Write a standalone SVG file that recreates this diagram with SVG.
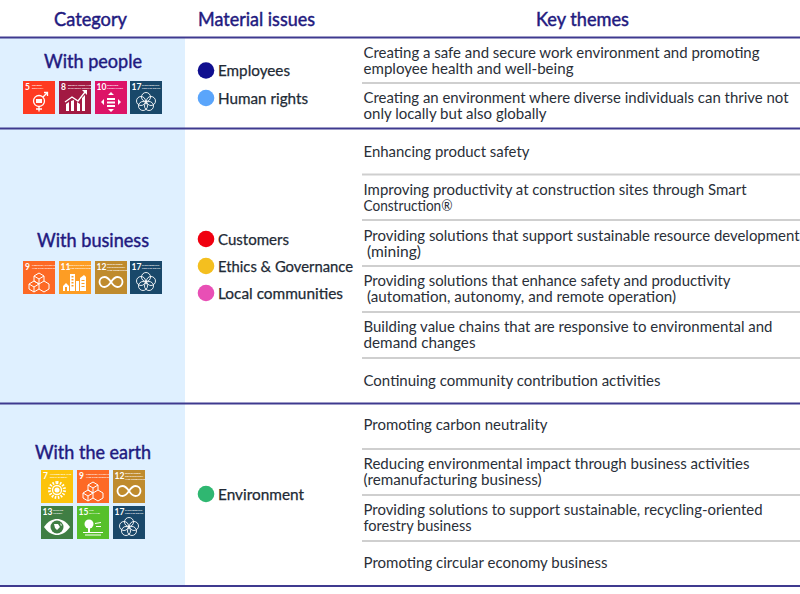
<svg xmlns="http://www.w3.org/2000/svg" width="800" height="594" viewBox="0 0 800 594">
<style>
text{font-family:"Lato","Noto Sans","Liberation Sans",sans-serif}
.h{font-size:18.500px;fill:#1f1a80;stroke:#1f1a80;stroke-width:.45}
.c{font-size:19.500px;fill:#1f1a80;stroke:#1f1a80;stroke-width:.45}
.m{font-size:15.500px;fill:#222a35;stroke:#222a35;stroke-width:.25}
.t{font-size:15px;fill:#2a2f38}
.rule{stroke:#3f3a8f;stroke-width:2;fill:none}
.sep{stroke:#cfcfcf;stroke-width:2;fill:none}
.n{font-size:8.500px;font-weight:700;fill:#fff}
.s{font-size:2.400px;font-weight:700;fill:#fff}
.w{fill:none;stroke:#fff;stroke-width:1.300}
.f{fill:#fff}
</style>
<defs>
<symbol id="g5" viewBox="0 0 32 33"><rect width="32" height="33" fill="#ff3a21"/><text class="n" x="2" y="9">5</text><text class="s" x="9" y="5">GENDER</text><text class="s" x="9" y="8">EQUALITY</text><circle class="w" cx="16" cy="20" r="5.500"/><rect class="f" x="13" y="18" width="6" height="4"/><path class="w" d="M16 25.500v5M13 28h6M20 16l4-4M21 11.500h3.500v3.500"/></symbol>
<symbol id="g8" viewBox="0 0 32 33"><rect width="32" height="33" fill="#a21942"/><text class="n" x="2" y="9">8</text><text class="s" x="9" y="5">DECENT WORK AND</text><text class="s" x="9" y="8">ECONOMIC GROWTH</text><path class="f" d="M7 30v-7l3-2v9zM12 30V20l3-1v11zM18 30V21l3 2v7zM23 30V17l3-3v16z"/><path class="w" d="M6 21l7-5 6 4 7-9"/><path class="f" d="M23 9h5v5z"/></symbol>
<symbol id="g10" viewBox="0 0 32 33"><rect width="32" height="33" fill="#dd1367"/><text class="n" x="1.500" y="9">10</text><text class="s" x="12" y="5">REDUCED</text><text class="s" x="12" y="8">INEQUALITIES</text><path class="f" d="M12 17h8v2h-8zM12 20.500h8v2h-8zM12 24h8v2h-8zM16 11l3 3h-6zM16 31l-3-3h6zM6 21l3-3v6zM26 21l-3-3v6z"/></symbol>
<symbol id="g17" viewBox="0 0 32 33"><rect width="32" height="33" fill="#19486a"/><text class="n" x="1.500" y="9">17</text><text class="s" x="12" y="5">PARTNERSHIPS</text><text class="s" x="12" y="8">FOR THE GOALS</text><g class="w" style="stroke-width:.9"><circle cx="16" cy="16" r="4.500"/><circle cx="11" cy="20" r="4.500"/><circle cx="21" cy="20" r="4.500"/><circle cx="13" cy="25" r="4.500"/><circle cx="19" cy="25" r="4.500"/></g></symbol>
<symbol id="g9" viewBox="0 0 32 33"><rect width="32" height="33" fill="#fd6925"/><text class="n" x="2" y="9">9</text><text class="s" x="9" y="5">INDUSTRY, INNOVATION</text><text class="s" x="9" y="8">AND INFRASTRUCTURE</text><path class="w" style="stroke-width:1" d="M16 12l5 3v5l-5 3-5-3v-5zM11 15l5 3 5-3M16 18v5M11 20l5 3v5l-5 3-5-3v-5zM6 23l5 3 5-3M11 26v5M21 20l5 3v5l-5 3-5-3"/></symbol>
<symbol id="g11" viewBox="0 0 32 33"><rect width="32" height="33" fill="#fd9d24"/><text class="n" x="1.500" y="9">11</text><text class="s" x="10" y="5">SUSTAINABLE CITIES</text><text class="s" x="10" y="8">AND COMMUNITIES</text><path class="f" d="M4 30v-5l3-3 3 3v5zM11 30V13h5v17zM17 30V20h3v10zM21 30V17l4-3 2 2v14z"/><path fill="#fd9d24" d="M12.500 15h2v1.500h-2zM12.500 18h2v1.500h-2zM12.500 21h2v1.500h-2zM12.500 24h2v1.500h-2zM22.500 19h3v1h-3zM22.500 22h3v1h-3zM22.500 25h3v1h-3zM6 26h2v4H6z"/></symbol>
<symbol id="g12" viewBox="0 0 32 33"><rect width="32" height="33" fill="#bf8b2e"/><text class="n" x="1.500" y="9">12</text><text class="s" x="12" y="4">RESPONSIBLE</text><text class="s" x="12" y="7">CONSUMPTION</text><text class="s" x="12" y="10">AND PRODUCTION</text><path class="w" style="stroke-width:1.800" d="M16 21c-2-3-4-5-6.500-5a5 5 0 0 0 0 10c2.500 0 4.500-2 6.500-5s4-5 6.500-5a5 5 0 0 1 0 10c-2.500 0-4.500-2-6.500-5z"/></symbol>
<symbol id="g7" viewBox="0 0 32 33"><rect width="32" height="33" fill="#fcc30b"/><text class="n" x="2" y="9">7</text><text class="s" x="9" y="5">AFFORDABLE AND</text><text class="s" x="9" y="8">CLEAN ENERGY</text><circle class="w" cx="16" cy="20" r="4.500"/><circle class="f" cx="16" cy="20" r="2.500"/><path class="w" style="stroke-dasharray:1.500 1.500;stroke-width:3" d="M16 12.500a7.500 7.500 0 1 1-.01 0"/></symbol>
<symbol id="g13" viewBox="0 0 32 33"><rect width="32" height="33" fill="#3f7e44"/><text class="n" x="1.500" y="9">13</text><text class="s" x="12" y="5">CLIMATE</text><text class="s" x="12" y="8">ACTION</text><path class="f" d="M3 21c4-6 9-8 13-8s9 2 13 8c-4 6-9 8-13 8s-9-2-13-8z"/><circle cx="16" cy="21" r="6.500" fill="#3f7e44"/><path class="f" d="M13 18h4l2 3-3 3-2-2zM19 17l2 2-1 1z"/></symbol>
<symbol id="g15" viewBox="0 0 32 33"><rect width="32" height="33" fill="#56c02b"/><text class="n" x="1.500" y="9">15</text><text class="s" x="12" y="5">LIFE</text><text class="s" x="12" y="8">ON LAND</text><circle class="f" cx="12" cy="18" r="4.500"/><rect class="f" x="11" y="20" width="2" height="6"/><path class="f" d="M6 26h20v1H6zM8 28.500h16v1H8zM18 17l6-1v1l-6 1zM19 20h5v1h-5z"/></symbol>
</defs>

<rect id="band" x="0" y="38" width="185" height="548" fill="#dff0ff"/>

<g id="header">
<text class="h" x="54" y="26" textLength="73" lengthAdjust="spacingAndGlyphs">Category</text>
<text class="h" x="198" y="26" textLength="117" lengthAdjust="spacingAndGlyphs">Material issues</text>
<text class="h" x="536" y="26" textLength="93" lengthAdjust="spacingAndGlyphs">Key themes</text>
</g>

<g id="rules">
<path class="rule" d="M0 37.500H800M0 128.500H800M0 403.500H800M0 586H800"/>
<path class="sep" d="M362 83H800M362 174.500H800M362 220H800M362 266H800M362 312H800M362 358H800M362 449H800M362 495H800M362 541H800"/>
</g>

<g id="cat-people">
<text class="c" x="44" y="68" textLength="98" lengthAdjust="spacingAndGlyphs">With people</text>
<use href="#g5" x="23" y="81" width="32" height="33"/>
<use href="#g8" x="59" y="81" width="32" height="33"/>
<use href="#g10" x="95" y="81" width="32" height="33"/>
<use href="#g17" x="130" y="81" width="32" height="33"/>
</g>
<g id="cat-business">
<text class="c" x="37" y="247" textLength="112" lengthAdjust="spacingAndGlyphs">With business</text>
<use href="#g9" x="23" y="261" width="32" height="33"/>
<use href="#g11" x="59" y="261" width="32" height="33"/>
<use href="#g12" x="95" y="261" width="32" height="33"/>
<use href="#g17" x="130" y="261" width="32" height="33"/>
</g>
<g id="cat-earth">
<text class="c" x="35" y="459" textLength="116" lengthAdjust="spacingAndGlyphs">With the earth</text>
<use href="#g7" x="41" y="470" width="32" height="33"/>
<use href="#g9" x="77" y="470" width="32" height="33"/>
<use href="#g12" x="113" y="470" width="32" height="33"/>
<use href="#g13" x="41" y="506" width="32" height="33"/>
<use href="#g15" x="77" y="506" width="32" height="33"/>
<use href="#g17" x="113" y="506" width="32" height="33"/>
</g>

<g id="issue-employees"><circle cx="206" cy="70.500" r="8.300" fill="#100f8f"/><text class="m" x="218" y="76" textLength="72" lengthAdjust="spacingAndGlyphs">Employees</text></g>
<g id="issue-human-rights"><circle cx="206" cy="98" r="8.300" fill="#5aa5fb"/><text class="m" x="218" y="104" textLength="90" lengthAdjust="spacingAndGlyphs">Human rights</text></g>
<g id="issue-customers"><circle cx="206" cy="239" r="8.300" fill="#f00010"/><text class="m" x="218" y="245" textLength="71" lengthAdjust="spacingAndGlyphs">Customers</text></g>
<g id="issue-ethics"><circle cx="206" cy="266" r="8.300" fill="#f4bf1f"/><text class="m" x="218" y="272" textLength="135" lengthAdjust="spacingAndGlyphs">Ethics &amp; Governance</text></g>
<g id="issue-local"><circle cx="206" cy="293" r="8.300" fill="#e84fb5"/><text class="m" x="218" y="299" textLength="125" lengthAdjust="spacingAndGlyphs">Local communities</text></g>
<g id="issue-environment"><circle cx="206" cy="494" r="8.300" fill="#2fb771"/><text class="m" x="218" y="500" textLength="86" lengthAdjust="spacingAndGlyphs">Environment</text></g>

<g id="themes">
<text class="t" x="363.500" y="58" textLength="396" lengthAdjust="spacingAndGlyphs">Creating a safe and secure work environment and promoting</text>
<text class="t" x="363.500" y="74" textLength="210" lengthAdjust="spacingAndGlyphs">employee health and well-being</text>
<text class="t" x="363.500" y="103" textLength="425" lengthAdjust="spacingAndGlyphs">Creating an environment where diverse individuals can thrive not</text>
<text class="t" x="363.500" y="119" textLength="183" lengthAdjust="spacingAndGlyphs">only locally but also globally</text>
<text class="t" x="363.500" y="157" textLength="166" lengthAdjust="spacingAndGlyphs">Enhancing product safety</text>
<text class="t" x="363.500" y="195" textLength="383" lengthAdjust="spacingAndGlyphs">Improving productivity at construction sites through Smart</text>
<text class="t" x="363.500" y="211" textLength="89" lengthAdjust="spacingAndGlyphs">Construction®</text>
<text class="t" x="363.500" y="241" textLength="436" lengthAdjust="spacingAndGlyphs">Providing solutions that support sustainable resource development</text>
<text class="t" x="367" y="257" textLength="54" lengthAdjust="spacingAndGlyphs">(mining)</text>
<text class="t" x="363.500" y="286" textLength="367" lengthAdjust="spacingAndGlyphs">Providing solutions that enhance safety and productivity</text>
<text class="t" x="367" y="302" textLength="309" lengthAdjust="spacingAndGlyphs">(automation, autonomy, and remote operation)</text>
<text class="t" x="363.500" y="332" textLength="409" lengthAdjust="spacingAndGlyphs">Building value chains that are responsive to environmental and</text>
<text class="t" x="363.500" y="348" textLength="112" lengthAdjust="spacingAndGlyphs">demand changes</text>
<text class="t" x="363.500" y="386" textLength="297" lengthAdjust="spacingAndGlyphs">Continuing community contribution activities</text>
<text class="t" x="363.500" y="430" textLength="184" lengthAdjust="spacingAndGlyphs">Promoting carbon neutrality</text>
<text class="t" x="363.500" y="469" textLength="386" lengthAdjust="spacingAndGlyphs">Reducing environmental impact through business activities</text>
<text class="t" x="363.500" y="485" textLength="178" lengthAdjust="spacingAndGlyphs">(remanufacturing business)</text>
<text class="t" x="363.500" y="515" textLength="399" lengthAdjust="spacingAndGlyphs">Providing solutions to support sustainable, recycling-oriented</text>
<text class="t" x="363.500" y="531" textLength="108" lengthAdjust="spacingAndGlyphs">forestry business</text>
<text class="t" x="363.500" y="568" textLength="244" lengthAdjust="spacingAndGlyphs">Promoting circular economy business</text>
</g>
</svg>
